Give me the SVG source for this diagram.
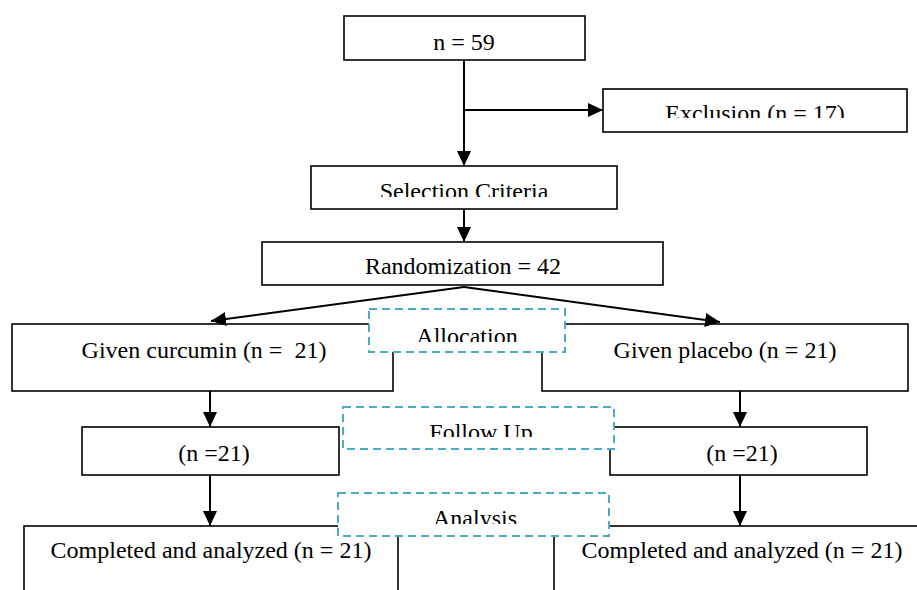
<svg xmlns="http://www.w3.org/2000/svg" width="917" height="590" viewBox="0 0 917 590">
<style>
.box{fill:#fff;stroke:#000;stroke-width:1.6}
.dash{fill:#fff;stroke:#4bacc6;stroke-width:2;stroke-dasharray:8,5}
.edge{fill:none;stroke:#000;stroke-width:2}
text{font-family:"Liberation Serif","Times New Roman",serif;font-size:24px;fill:#000;text-anchor:middle}
</style>
<defs>
<marker id="ah" markerUnits="userSpaceOnUse" markerWidth="16" markerHeight="14" refX="15" refY="7" orient="auto">
<path d="M0,0 L15,7 L0,14 Z" fill="#000"/>
</marker>
<clipPath id="cExc"><rect x="603" y="89" width="304" height="29"/></clipPath>
<clipPath id="cSel"><rect x="311" y="166" width="306" height="31"/></clipPath>
<clipPath id="cAll"><rect x="369" y="309" width="196" height="33"/></clipPath>
<clipPath id="cFol"><rect x="343" y="407" width="271" height="30"/></clipPath>
<clipPath id="cAna"><rect x="338" y="493" width="271" height="31"/></clipPath>
</defs>

<g id="n59"><rect class="box" x="344" y="16" width="241" height="44"/><text x="464" y="50">n = 59</text></g>
<g id="exclusion"><rect class="box" x="603" y="89" width="304" height="43"/><text x="755" y="121" clip-path="url(#cExc)">Exclusion (n = 17)</text></g>
<g id="selection"><rect class="box" x="311" y="166" width="306" height="43"/><text x="464" y="199" clip-path="url(#cSel)">Selection Criteria</text></g>
<g id="randomization"><rect class="box" x="262" y="242" width="401" height="43"/><text x="463" y="274">Randomization = 42</text></g>
<g id="curcumin"><rect class="box" x="12" y="324" width="381" height="67"/><text x="204" y="358" xml:space="preserve">Given curcumin (n =  21)</text></g>
<g id="placebo"><rect class="box" x="542" y="324" width="366" height="67"/><text x="725" y="358">Given placebo (n = 21)</text></g>
<g id="allocation"><rect class="dash" x="369" y="309" width="196" height="43"/><text x="467" y="344" clip-path="url(#cAll)">Allocation</text></g>
<g id="fu-left"><rect class="box" x="82" y="427" width="257" height="48"/><text x="214" y="461">(n =21)</text></g>
<g id="fu-right"><rect class="box" x="610" y="427" width="257" height="48"/><text x="742" y="461">(n =21)</text></g>
<g id="followup"><rect class="dash" x="343" y="407" width="271" height="42"/><text x="481" y="440" clip-path="url(#cFol)">Follow Up</text></g>
<g id="done-left"><rect class="box" x="24" y="526" width="374" height="80"/><text x="211" y="558">Completed and analyzed (n = 21)</text></g>
<g id="done-right"><rect class="box" x="554" y="526" width="380" height="80"/><text x="742" y="558">Completed and analyzed (n = 21)</text></g>
<g id="analysis"><rect class="dash" x="338" y="493" width="271" height="43"/><text x="475" y="526" clip-path="url(#cAna)">Analysis</text></g>

<g id="connectors">
<line class="edge" x1="464" y1="60" x2="464" y2="166" marker-end="url(#ah)"/>
<line class="edge" x1="464" y1="110" x2="603" y2="110" marker-end="url(#ah)"/>
<line class="edge" x1="464" y1="209" x2="464" y2="242" marker-end="url(#ah)"/>
<line class="edge" x1="464" y1="287" x2="211" y2="321" marker-end="url(#ah)"/>
<line class="edge" x1="464" y1="287" x2="720" y2="322" marker-end="url(#ah)"/>
<line class="edge" x1="210" y1="391" x2="210" y2="427" marker-end="url(#ah)"/>
<line class="edge" x1="740" y1="391" x2="740" y2="427" marker-end="url(#ah)"/>
<line class="edge" x1="210" y1="475" x2="210" y2="526" marker-end="url(#ah)"/>
<line class="edge" x1="740" y1="475" x2="740" y2="526" marker-end="url(#ah)"/>
</g>
</svg>
